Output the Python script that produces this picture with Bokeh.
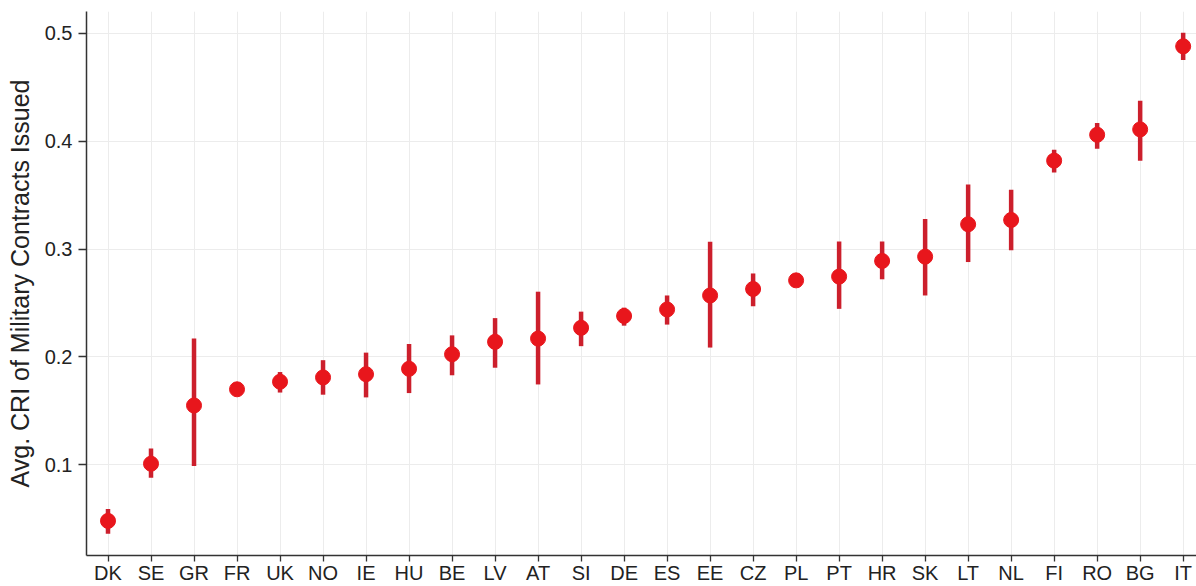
from bokeh.plotting import figure
from bokeh.models import Range1d, FixedTicker, ColumnDataSource
from bokeh.embed import file_html
from bokeh.resources import INLINE

countries = ["DK", "SE", "GR", "FR", "UK", "NO", "IE", "HU", "BE", "LV", "AT", "SI", "DE",
             "ES", "EE", "CZ", "PL", "PT", "HR", "SK", "LT", "NL", "FI", "RO", "BG", "IT"]
avg_cri = [0.048, 0.101, 0.155, 0.170, 0.177, 0.181, 0.184, 0.189, 0.2025, 0.214, 0.217, 0.227, 0.238,
           0.244, 0.257, 0.263, 0.271, 0.2745, 0.289, 0.293, 0.323, 0.327, 0.382, 0.406, 0.411, 0.488]
ci_low = [0.036, 0.088, 0.099, 0.168, 0.167, 0.165, 0.1625, 0.1665, 0.183, 0.190, 0.1745, 0.210, 0.229,
          0.230, 0.2087, 0.247, 0.269, 0.2446, 0.272, 0.257, 0.288, 0.299, 0.371, 0.393, 0.382, 0.4754]
ci_high = [0.059, 0.115, 0.217, 0.172, 0.186, 0.197, 0.204, 0.212, 0.220, 0.236, 0.2605, 0.242, 0.2457,
           0.257, 0.3067, 0.2774, 0.273, 0.307, 0.307, 0.328, 0.360, 0.355, 0.392, 0.417, 0.4375, 0.5006]
y_ticks = [0.1, 0.2, 0.3, 0.4, 0.5]

pos = list(range(len(countries)))
src = ColumnDataSource(dict(x=pos, cat=countries, m=avg_cri, lo=ci_low, hi=ci_high))

p = figure(width=1196, height=586, output_backend="svg", toolbar_location=None,
           x_range=Range1d(-0.5, len(countries) - 0.69), y_range=Range1d(0.0159, 0.5203),
           min_border_left=86, min_border_top=11, min_border_right=0, min_border_bottom=29)
p.outline_line_color = None
p.background_fill_color = "white"

p.segment(x0="x", y0="lo", x1="x", y1="hi", source=src, line_width=4.5, line_color="#cc1f2c")
p.scatter(x="x", y="m", source=src, size=15, fill_color="#e8161c", line_color="#e8161c")

FONT = "Liberation Sans"
p.xaxis.ticker = FixedTicker(ticks=pos)
p.xaxis.major_label_overrides = {i: c for i, c in zip(pos, countries)}
p.yaxis.ticker = FixedTicker(ticks=y_ticks)
p.yaxis.axis_label = "Avg. CRI of Military Contracts Issued"

for ax in (p.xaxis[0], p.yaxis[0]):
    ax.axis_line_color = "#333333"
    ax.axis_line_width = 1.5
    ax.major_tick_line_color = "#333333"
    ax.major_tick_line_width = 1.3
    ax.minor_tick_line_color = None
    ax.major_tick_in = 0
    ax.major_label_text_font = FONT
    ax.major_label_text_font_size = "20px"
    ax.major_label_text_color = "#222222"
    ax.axis_label_text_font = FONT
    ax.axis_label_text_font_size = "25px"
    ax.axis_label_text_font_style = "normal"
    ax.axis_label_text_color = "#222222"

p.xaxis.major_tick_out = 6
p.xaxis.major_label_standoff = 0
p.yaxis.major_tick_out = 8
p.yaxis.major_label_standoff = 6
p.yaxis.axis_label_standoff = 8

p.xgrid.grid_line_color = "#ececec"
p.ygrid.grid_line_color = "#ececec"
p.xgrid.grid_line_width = 1
p.ygrid.grid_line_width = 1

open("out.html", "w").write(file_html(p, INLINE))
